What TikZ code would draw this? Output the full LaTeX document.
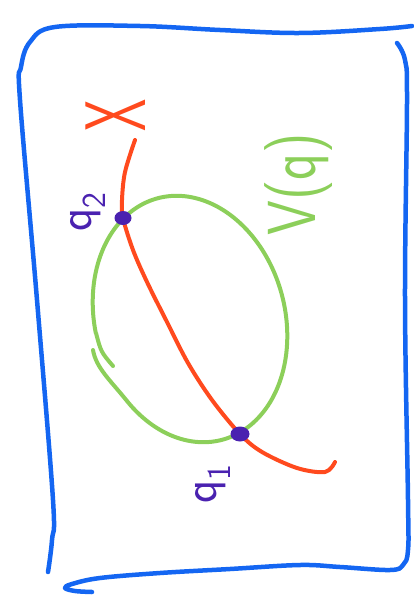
\documentclass[tikz,border=0pt]{standalone}
\usepackage{fontspec}
\usetikzlibrary{shapes.geometric}
\definecolor{bordblue}{HTML}{1466F2}
\definecolor{curvered}{HTML}{FF4A1E}
\definecolor{elgreen}{HTML}{8CCF5A}
\definecolor{ptpurple}{HTML}{4A22B0}
\begin{document}
\begin{tikzpicture}[x=1pt,y=-1pt, line cap=round, line join=round,
  border/.style={draw=bordblue, line width=4.5pt},
  xcurve/.style={draw=curvered, line width=4pt},
  vset/.style={draw=elgreen, line width=4pt},
  ptdot/.style={ellipse, fill=ptpurple, inner sep=0pt, minimum width=17pt, minimum height=14pt},
  ptlab/.style={text=ptpurple, font=\fontsize{48}{48}\selectfont\sffamily, rotate=90, inner sep=0pt}]
\useasboundingbox (0,0) rectangle (414,607);
% frame
\draw[border] plot[smooth, tension=0.6] coordinates {(48,572) (52,540) (53,500) (37,300) (20,100) (21,67) (30,42) (55,27) (140,26) (220,30) (300,33) (380,29) (412,26)};
\draw[border] plot[smooth, tension=0.6] coordinates {(397,43) (405,60) (407,100) (405,300) (408,500) (408,550) (403,565) (390,570) (340,567) (300,565) (230,569) (160,573) (100,578) (72,584) (65,588) (75,591) (92,592)};
% ellipse V(q), one stroke with overlapping ends
\draw[vset] (113,366) .. controls (101,352) .. (96,333)
  -- plot[domain=185:510, samples=110, smooth] ({190+95*cos(\x)*cos(15)+125*sin(\x)*sin(15)}, {319-95*cos(\x)*sin(15)+125*sin(\x)*cos(15)})
  .. controls (111,381) and (96,368) .. (93,350);
% curve X
\coordinate (c2) at (123,218);
\coordinate (c1) at (240,434);
\draw[xcurve] plot[smooth, tension=0.55] coordinates {(135,140) (125,172) (122,200) (c2) (133,250) (147,282) (167,322) (188,363) (212,400) (c1) (262,452) (297,468) (325,472) (335,462)};
% points
\node[ptdot] (q2) at (c2) {};
\node[ptdot, minimum width=19pt, minimum height=15pt] (q1) at (c1) {};
% labels
\node[text=curvered, rotate=90, xscale=0.6, font=\fontsize{86}{86}\selectfont\sffamily, inner sep=0pt] (xlab) at (116,115) {X};
\node[text=elgreen, rotate=90, xscale=0.82, anchor=base west, font=\fontsize{68}{68}\selectfont\sffamily, inner sep=0pt] (vlab) at (315,236) {V(q)};
\node[ptlab] (q2lab) at (88,212) {q\textsubscript{2}};
\node[ptlab] (q1lab) at (213,484) {q\textsubscript{1}};
\end{tikzpicture}
\end{document}
